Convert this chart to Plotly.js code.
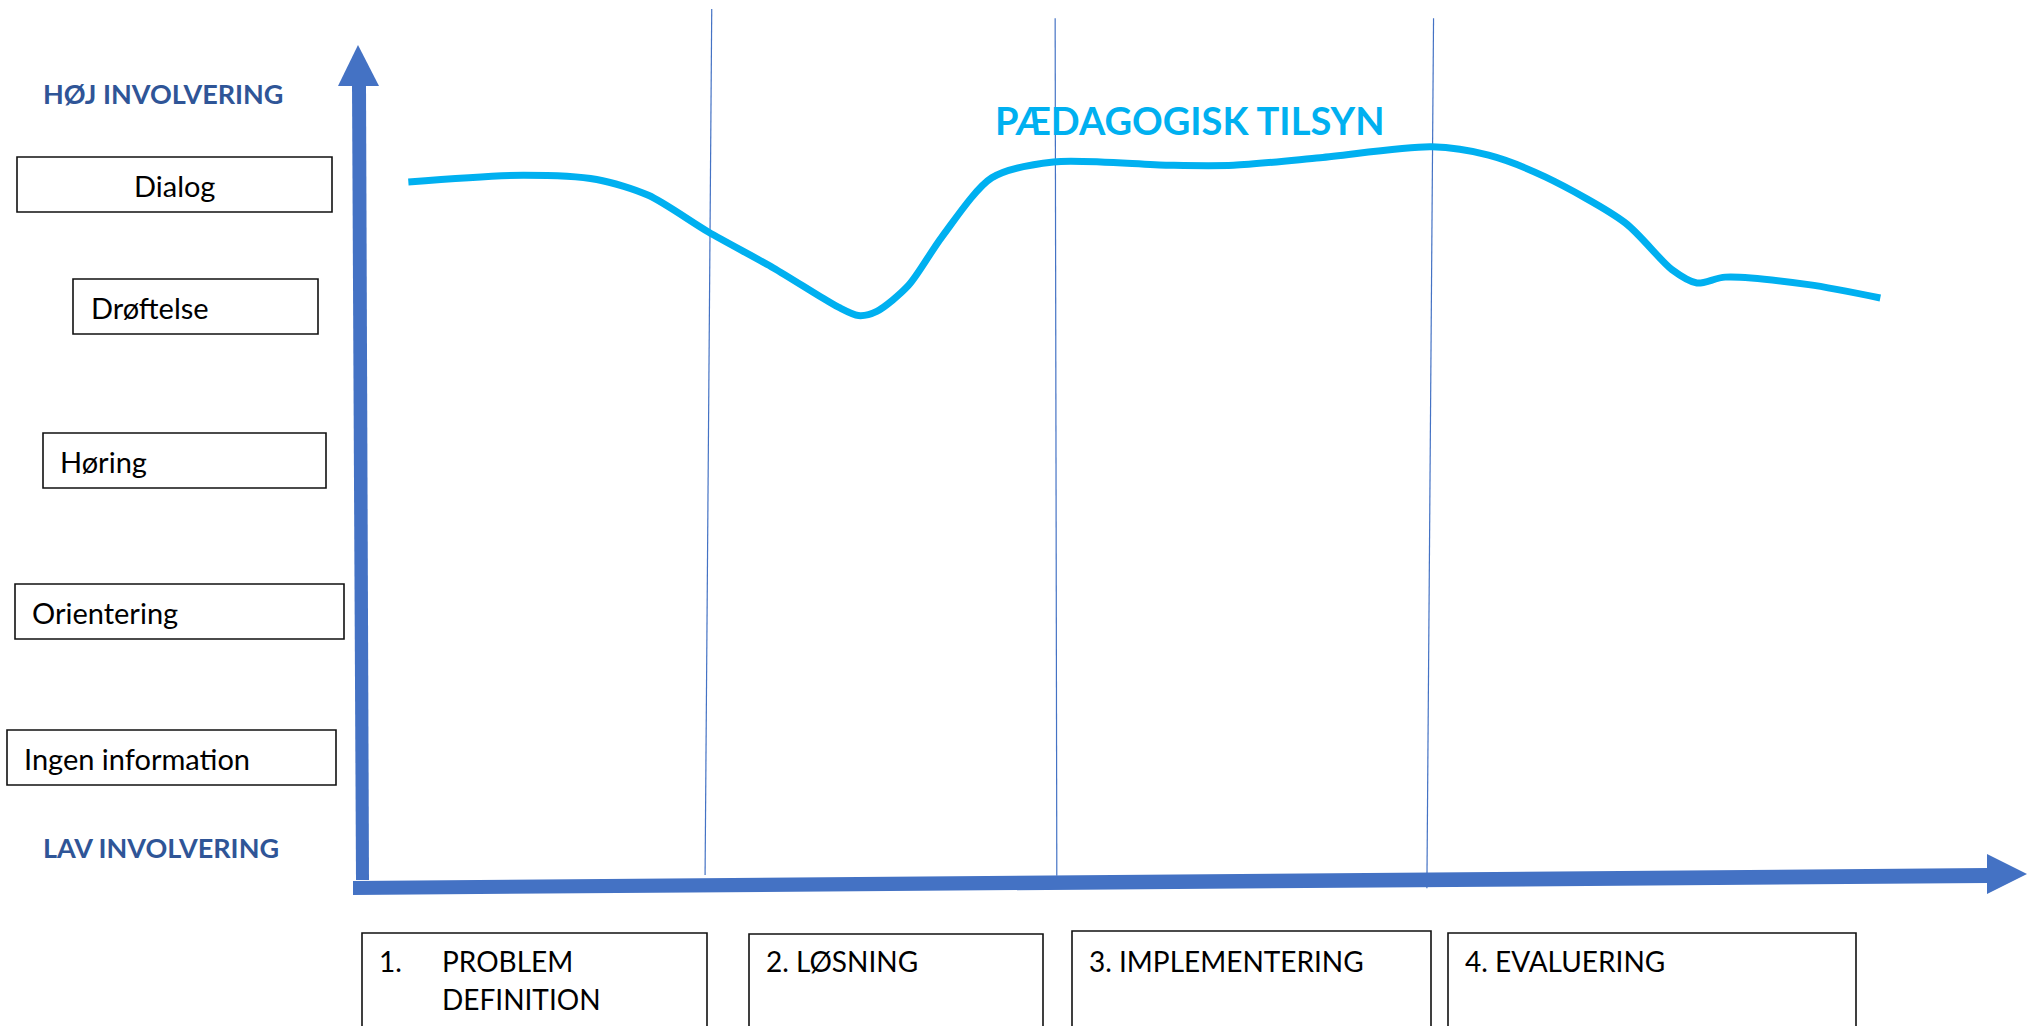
<!DOCTYPE html>
<html>
<head>
<meta charset="utf-8">
<script src="https://cdn.plot.ly/plotly-3.0.1.min.js"></script>
<style>html,body{margin:0;padding:0;background:#fff;}#chart{width:2035px;height:1026px;}</style>
</head>
<body>
<div id="chart"></div>
<script>
// ---------------- DATA ----------------
// Involvement levels (y-axis categories, top to bottom)
const levels = ['Dialog', 'Drøftelse', 'Høring', 'Orientering', 'Ingen information'];
const axisTop = 'HØJ INVOLVERING';
const axisBottom = 'LAV INVOLVERING';
// Process phases (x-axis categories)
const phaseNumbers = ['1.', '2.', '3.', '4.'];
const phaseNames = ['PROBLEM DEFINITION', 'LØSNING', 'IMPLEMENTERING', 'EVALUERING'];
// Curve title
const seriesName = 'PÆDAGOGISK TILSYN';
// Curve: time (0-100 along process axis) and involvement (0-100)
const curveTime = [2.9, 9.8, 14.2, 17.3, 20.9, 24.8, 27.5, 28.7, 29.9, 31.0, 32.9, 34.9, 37.9, 41.6, 48.5, 52.4, 57.6, 64.3, 67.7, 71.1, 75.9, 78.7, 80.2, 81.9, 86.9, 91.2];
const curveInvolvement = [83.6, 84.4, 83.9, 82.0, 77.6, 73.3, 70.0, 68.6, 67.6, 68.1, 71.2, 77.0, 84.1, 86.0, 85.6, 85.6, 86.5, 87.8, 86.8, 84.2, 78.7, 73.1, 71.5, 72.2, 71.3, 69.7];
// Phase boundaries (slightly leaning hand-drawn separators)
const boundaryTimeTop = [21.1, 41.7, 64.4];
const boundaryTimeBottom = [20.7, 41.8, 64.0];
const boundaryLevelTop = [104.3, 103.2, 103.2];
const boundaryLevelBottom = [0.6, 0.5, -1.0];

// ---------------- LAYOUT HELPERS ----------------
const W = 2035, H = 1026;
const X0 = 360, KX = 16.67;   // px of time 0, px per time unit
const Y0 = 880, KY = 8.35;    // px of involvement 0, px per unit
const dx = px => (px - X0) / KX;
const dy = py => (Y0 - py) / KY;
const px = v => v / W;
const py = v => 1 - v / H;

const FONT = 'Lato, "Open Sans", "Noto Sans", sans-serif';
const BLUE = '#4472C4';
const CYAN = '#00B0F0';
const DARK = '#2F5597';

const traces = [];
// phase separator lines
for (let i = 0; i < boundaryTimeTop.length; i++) {
  traces.push({
    type: 'scatter', mode: 'lines',
    x: [boundaryTimeBottom[i], boundaryTimeTop[i]],
    y: [boundaryLevelBottom[i], boundaryLevelTop[i]],
    line: {color: BLUE, width: 1.2},
    hoverinfo: 'skip', showlegend: false
  });
}
// curve
traces.push({
  type: 'scatter', mode: 'lines', name: seriesName,
  x: curveTime, y: curveInvolvement,
  line: {color: CYAN, width: 7, shape: 'spline', smoothing: 0.8},
  showlegend: false
});

const shapes = [];
const annotations = [];

// Axis arrows
function pathPx(pts) {
  return 'M ' + pts.map(p => dx(p[0]).toFixed(3) + ',' + dy(p[1]).toFixed(3)).join(' L ') + ' Z';
}
// vertical arrow shaft + head
shapes.push({type: 'path', xref: 'x', yref: 'y', path: pathPx([[356, 880], [369, 880], [366, 85], [352, 85]]), fillcolor: BLUE, line: {width: 0}, layer: 'above'});
shapes.push({type: 'path', xref: 'x', yref: 'y', path: pathPx([[338, 86], [379, 86], [358, 45]]), fillcolor: BLUE, line: {width: 0}, layer: 'above'});
// horizontal arrow shaft + head
shapes.push({type: 'path', xref: 'x', yref: 'y', path: pathPx([[353, 881], [1988, 868], [1988, 883], [353, 895]]), fillcolor: BLUE, line: {width: 0}, layer: 'above'});
shapes.push({type: 'path', xref: 'x', yref: 'y', path: pathPx([[1987, 854], [2027, 874], [1987, 894]]), fillcolor: BLUE, line: {width: 0}, layer: 'above'});

// Level boxes (left)
const lvlBox = [
  {x0: 17, x1: 332, y0: 157, y1: 212, tx: 174.5, align: 'center'},
  {x0: 73, x1: 318, y0: 279, y1: 334, tx: 91, align: 'left'},
  {x0: 43, x1: 326, y0: 433, y1: 488, tx: 60, align: 'left'},
  {x0: 15, x1: 344, y0: 584, y1: 639, tx: 32, align: 'left'},
  {x0: 7, x1: 336, y0: 730, y1: 785, tx: 24, align: 'left'}
];
levels.forEach((lab, i) => {
  const b = lvlBox[i];
  shapes.push({type: 'rect', xref: 'paper', yref: 'paper', x0: px(b.x0), x1: px(b.x1), y0: py(b.y1), y1: py(b.y0),
    line: {color: '#111', width: 1.6}, fillcolor: 'rgba(0,0,0,0)'});
  annotations.push({xref: 'paper', yref: 'paper', x: px(b.tx), y: py((b.y0 + b.y1) / 2 + 1),
    xanchor: b.align === 'center' ? 'center' : 'left', yanchor: 'middle', showarrow: false,
    text: lab, borderpad: 0, borderwidth: 0,
    font: {family: FONT, size: 29, color: '#000'}});
});

// Axis end labels
annotations.push({xref: 'paper', yref: 'paper', x: px(43), y: py(93), xanchor: 'left', yanchor: 'middle', showarrow: false,
  text: '<b>' + axisTop + '</b>', borderpad: 0, borderwidth: 0, font: {family: FONT, size: 27, color: DARK}});
annotations.push({xref: 'paper', yref: 'paper', x: px(43), y: py(847), xanchor: 'left', yanchor: 'middle', showarrow: false,
  text: '<b>' + axisBottom + '</b>', borderpad: 0, borderwidth: 0, font: {family: FONT, size: 27, color: DARK}});

// Series title
annotations.push({xref: 'paper', yref: 'paper', x: px(1190), y: py(120), xanchor: 'center', yanchor: 'middle', showarrow: false,
  text: '<b>' + seriesName + '</b>', borderpad: 0, borderwidth: 0, font: {family: FONT, size: 38, color: CYAN}});

// Phase boxes (bottom)
const phBox = [
  {x0: 362, x1: 707, y0: 933},
  {x0: 749, x1: 1043, y0: 934},
  {x0: 1072, x1: 1431, y0: 931},
  {x0: 1448, x1: 1856, y0: 933}
];
phaseNames.forEach((name, i) => {
  const b = phBox[i];
  shapes.push({type: 'rect', xref: 'paper', yref: 'paper', x0: px(b.x0), x1: px(b.x1), y0: py(1040), y1: py(b.y0),
    line: {color: '#111', width: 1.6}, fillcolor: 'rgba(0,0,0,0)'});
  const tf = {family: FONT, size: 28, color: '#000'};
  if (i === 0) {
    const words = name.split(' ');
    annotations.push({xref: 'paper', yref: 'paper', x: px(b.x0 + 17), y: py(961), xanchor: 'left', yanchor: 'middle', showarrow: false,
      text: phaseNumbers[i], borderpad: 0, borderwidth: 0, font: tf});
    annotations.push({xref: 'paper', yref: 'paper', x: px(b.x0 + 80), y: py(961), xanchor: 'left', yanchor: 'middle', showarrow: false,
      text: words[0], borderpad: 0, borderwidth: 0, font: tf});
    annotations.push({xref: 'paper', yref: 'paper', x: px(b.x0 + 80), y: py(999), xanchor: 'left', yanchor: 'middle', showarrow: false,
      text: words.slice(1).join(' '), borderpad: 0, borderwidth: 0, font: tf});
  } else {
    annotations.push({xref: 'paper', yref: 'paper', x: px(b.x0 + 17), y: py(961), xanchor: 'left', yanchor: 'middle', showarrow: false,
      text: phaseNumbers[i] + ' ' + name, borderpad: 0, borderwidth: 0, font: tf});
  }
});

const layout = {
  width: W, height: H,
  margin: {l: 0, r: 0, t: 0, b: 0, pad: 0},
  paper_bgcolor: '#fff', plot_bgcolor: '#fff',
  showlegend: false,
  xaxis: {range: [dx(0), dx(W)], visible: false, fixedrange: true},
  yaxis: {range: [dy(H), dy(0)], visible: false, fixedrange: true},
  shapes: shapes,
  annotations: annotations
};

Plotly.newPlot('chart', traces, layout, {displayModeBar: false, staticPlot: true});
</script>
</body>
</html>
